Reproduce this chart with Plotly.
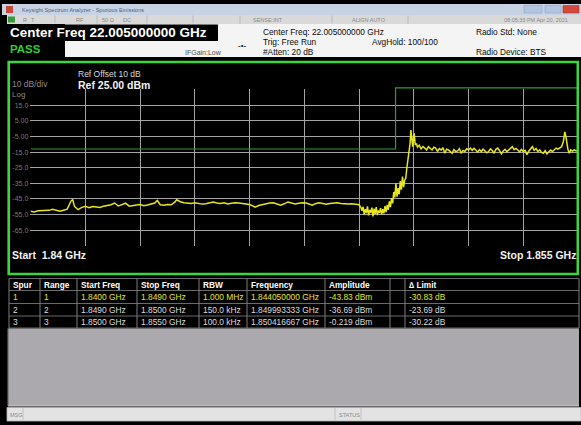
import plotly.graph_objects as go

W, H = 581, 425
SANS = "Liberation Sans, Arial, sans-serif"

# Sweep trace: (frequency in MHz, level in dBm)
sweep_low = [
    (1840.00, -52.9), (1840.10, -53.3), (1840.20, -52.6), (1840.30, -52.5), (1840.40, -52.0),
    (1840.50, -52.3), (1840.60, -51.6), (1840.70, -52.4), (1840.80, -52.9), (1840.90, -52.2),
    (1841.00, -51.5), (1841.05, -49.0), (1841.10, -46.5), (1841.15, -45.3), (1841.20, -49.8),
    (1841.30, -51.8), (1841.40, -50.4), (1841.50, -49.7), (1841.60, -50.6), (1841.70, -49.8),
    (1841.80, -50.1), (1841.90, -50.5), (1842.00, -49.6), (1842.10, -49.2), (1842.20, -48.7),
    (1842.30, -47.6), (1842.40, -49.5), (1842.50, -48.6), (1842.60, -47.7), (1842.70, -49.6),
    (1842.80, -49.1), (1842.90, -48.8), (1843.00, -48.6), (1843.10, -49.3), (1843.20, -48.9),
    (1843.30, -48.4), (1843.40, -47.6), (1843.47, -46.0), (1843.55, -48.7), (1843.65, -49.0),
    (1843.75, -48.5), (1843.85, -48.7), (1843.95, -47.0), (1844.00, -45.5), (1844.10, -46.8),
    (1844.20, -47.4), (1844.30, -47.6), (1844.40, -47.9), (1844.50, -47.4), (1844.60, -47.7),
    (1844.70, -48.3), (1844.80, -48.1), (1844.90, -47.3), (1845.00, -47.0), (1845.10, -47.6),
    (1845.20, -47.9), (1845.30, -47.5), (1845.40, -48.2), (1845.50, -47.8), (1845.60, -47.4),
    (1845.70, -47.6), (1845.80, -48.0), (1845.90, -48.3), (1846.00, -48.6), (1846.10, -49.6),
    (1846.15, -50.3), (1846.25, -49.2), (1846.35, -48.6), (1846.45, -48.0), (1846.55, -47.6),
    (1846.65, -47.5), (1846.75, -48.2), (1846.85, -49.0), (1846.95, -48.1), (1847.05, -46.9),
    (1847.15, -47.6), (1847.25, -48.2), (1847.35, -47.7), (1847.45, -47.4), (1847.55, -47.6),
    (1847.65, -48.5), (1847.72, -49.0), (1847.80, -48.0), (1847.90, -47.5), (1848.00, -47.9),
    (1848.10, -48.3), (1848.20, -47.9), (1848.30, -47.6), (1848.40, -47.5), (1848.50, -47.9),
    (1848.60, -48.1), (1848.70, -48.2), (1848.80, -48.0), (1848.90, -48.5), (1849.00, -48.7),
]
sweep_edge = [
    (1849.05, -50.5), (1849.08, -52.5), (1849.11, -50.0), (1849.14, -55.0), (1849.17, -51.5),
    (1849.20, -54.0), (1849.23, -49.8), (1849.26, -55.5), (1849.29, -52.0), (1849.32, -53.8),
    (1849.35, -50.6), (1849.38, -56.2), (1849.41, -51.2), (1849.44, -54.5), (1849.47, -50.2),
    (1849.50, -55.3), (1849.53, -52.4), (1849.56, -53.9), (1849.59, -50.8), (1849.62, -55.0),
    (1849.65, -51.6), (1849.68, -54.2), (1849.71, -49.5), (1849.74, -53.5), (1849.77, -48.8),
    (1849.80, -52.0), (1849.83, -46.5), (1849.86, -50.2), (1849.89, -44.4), (1849.92, -47.8),
    (1849.95, -40.5), (1849.98, -44.0), (1850.01, -35.0), (1850.04, -43.5), (1850.07, -38.0),
    (1850.10, -42.0), (1850.13, -33.5), (1850.16, -39.0), (1850.19, -30.6), (1850.22, -37.5),
    (1850.25, -33.0), (1850.28, -31.6), (1850.31, -25.0), (1850.34, -20.5), (1850.37, -15.5),
    (1850.40, -9.0), (1850.42, -0.9), (1850.45, -8.5), (1850.47, -11.5), (1850.49, -6.0),
    (1850.51, -3.0), (1850.54, -10.4), (1850.57, -9.5), (1850.60, -11.8),
]
sweep_high = [
    (1850.65, -10.6), (1850.70, -12.9), (1850.75, -11.4), (1850.80, -12.4), (1850.85, -13.6),
    (1850.90, -11.5), (1850.95, -12.8), (1851.00, -13.6), (1851.05, -11.9), (1851.10, -12.4),
    (1851.15, -14.6), (1851.20, -12.7), (1851.25, -13.6), (1851.30, -12.2), (1851.35, -15.7),
    (1851.40, -13.1), (1851.45, -13.6), (1851.50, -14.9), (1851.55, -15.7), (1851.60, -13.4),
    (1851.65, -14.6), (1851.70, -14.2), (1851.75, -12.8), (1851.80, -15.7), (1851.85, -13.9),
    (1851.90, -14.6), (1851.95, -12.9), (1852.00, -13.6), (1852.05, -12.4), (1852.10, -13.8),
    (1852.15, -12.6), (1852.20, -13.6), (1852.25, -15.0), (1852.30, -13.4), (1852.35, -14.6),
    (1852.40, -13.1), (1852.45, -14.2), (1852.50, -15.4), (1852.55, -14.6), (1852.60, -12.9),
    (1852.65, -14.0), (1852.70, -15.7), (1852.75, -13.2), (1852.80, -12.4), (1852.85, -14.1),
    (1852.90, -16.1), (1852.95, -14.3), (1853.00, -13.2), (1853.05, -14.7), (1853.10, -13.6),
    (1853.15, -12.5), (1853.20, -11.5), (1853.25, -13.4), (1853.30, -12.6), (1853.35, -13.6),
    (1853.40, -14.8), (1853.45, -13.3), (1853.50, -14.6), (1853.55, -13.9), (1853.60, -16.6),
    (1853.65, -14.4), (1853.70, -12.9), (1853.75, -11.5), (1853.80, -13.8), (1853.85, -12.7),
    (1853.90, -14.6), (1853.95, -13.5), (1854.00, -15.2), (1854.05, -15.7), (1854.10, -14.0),
    (1854.15, -16.1), (1854.20, -14.8), (1854.25, -13.7), (1854.30, -14.6), (1854.35, -13.2),
    (1854.40, -12.4), (1854.45, -13.1), (1854.50, -12.0), (1854.55, -11.5), (1854.60, -8.0),
    (1854.64, -2.0), (1854.68, -6.5), (1854.72, -12.8), (1854.76, -15.7), (1854.80, -13.6),
    (1854.85, -14.4), (1854.90, -13.6), (1854.95, -14.2), (1855.00, -13.6),
]

# Spurious-emission ranges and their limit lines
range_start_mhz = [1840.0, 1849.0, 1850.0]
range_stop_mhz = [1849.0, 1850.0, 1855.0]
limit_dbm = [-13.0, -13.0, 30.0]

# Display scale
ref_level_dbm = 25.0
bottom_level_dbm = -75.0
start_mhz, stop_mhz = 1840.0, 1855.0
y_tick_vals = [25, 15, 5, -5, -15, -25, -35, -45, -55, -65, -75]
y_tick_text = ["", "15.0", "5.00", "-5.00", "-15.0", "-25.0", "-35.0", "-45.0", "-55.0", "-65.0", ""]
x_grid_mhz = [1840.0, 1841.5, 1843.0, 1844.5, 1846.0, 1847.5, 1849.0, 1850.5, 1852.0, 1853.5, 1855.0]

# Result table
table_header = ["Spur", "Range", "Start Freq", "Stop Freq", "RBW", "Frequency", "Amplitude", "", "\u2206 Limit"]
table_rows = [
    ["1", "1", "1.8400 GHz", "1.8490 GHz", "1.000 MHz", "1.844050000 GHz", "-43.83 dBm", "", "-30.83 dB"],
    ["2", "2", "1.8490 GHz", "1.8500 GHz", "150.0 kHz", "1.849993333 GHz", "-36.69 dBm", "", "-23.69 dB"],
    ["3", "3", "1.8500 GHz", "1.8550 GHz", "100.0 kHz", "1.850416667 GHz", "-0.219 dBm", "", "-30.22 dB"],
]

# ---------------- geometry (pixels) ----------------
PX_L, PX_R = 30.7, 578.0      # start / stop frequency
PY_T, PY_B = 89.7, 245.8      # ref level / bottom level
ppm = (PX_R - PX_L) / (stop_mhz - start_mhz)
ppd = (PY_B - PY_T) / (ref_level_dbm - bottom_level_dbm)
pad_x, pad_y = 0.01, 0.2
x_dom = [(PX_L - pad_x * ppm) / W, (PX_R + pad_x * ppm) / W]
y_dom = [1 - (PY_B + pad_y * ppd) / H, 1 - (PY_T - pad_y * ppd) / H]
LIM_TOP_PX = 86.0
y2_top = ref_level_dbm + (PY_T - LIM_TOP_PX) / ppd
y2_dom = [y_dom[0], 1 - LIM_TOP_PX / H]

sweep = sweep_low + sweep_edge + sweep_high
sweep_f = [p[0] for p in sweep]
sweep_l = [p[1] for p in sweep]

# limits above the screen are pinned just over the top graticule line, as the analyzer does
pin = ref_level_dbm + 1.2
lim_x, lim_y = [], []
for s, e, v in zip(range_start_mhz, range_stop_mhz, limit_dbm):
    v = min(v, pin)
    lim_x += [s, e]
    lim_y += [v, v]

shapes = []
annotations = []


def rect(x0, y0, x1, y1, fill, line_color=None, lw=0, layer="below"):
    shapes.append(dict(type="rect", xref="paper", yref="paper",
                       x0=x0 / W, x1=x1 / W, y0=1 - y1 / H, y1=1 - y0 / H,
                       fillcolor=fill, line=dict(color=line_color or fill, width=lw), layer=layer))


def hline(x0, x1, y, color, lw=1, layer="below"):
    shapes.append(dict(type="line", xref="paper", yref="paper",
                       x0=x0 / W, x1=x1 / W, y0=1 - y / H, y1=1 - y / H,
                       line=dict(color=color, width=lw), layer=layer))


def vline(x, y0, y1, color, lw=1, layer="below"):
    shapes.append(dict(type="line", xref="paper", yref="paper",
                       x0=x / W, x1=x / W, y0=1 - y0 / H, y1=1 - y1 / H,
                       line=dict(color=color, width=lw), layer=layer))


def label(x, y, s, size, color, bold=False, anchor="left"):
    annotations.append(dict(xref="paper", yref="paper", x=x / W, y=1 - y / H,
                            text=f"<b>{s}</b>" if bold else s, showarrow=False,
                            xanchor=anchor, yanchor="middle", borderpad=0,
                            font=dict(family=SANS, size=size, color=color)))


# ---- window title bar ----
rect(2, 4, 581, 15, "#c7d3e5")
rect(6, 6, 13, 13, "#c8473c")
label(21, 9.6, "Keysight Spectrum Analyzer - Spurious Emissions", 5.5, "#4d5f82")
rect(524, 5.5, 542, 13, "#b4c6df", "#8fa4c2", 0.6)
rect(545, 5.5, 561, 13, "#b4c6df", "#8fa4c2", 0.6)
rect(563, 5.5, 579, 13, "#d34a3b", "#a8382c", 0.6)

# ---- status row ----
rect(7, 15, 581, 24, "#d9d9d9")
rect(8, 16.5, 15, 22.5, "#3a9a3a")
label(22, 19.5, "R", 5.5, "#8a8a8a")
label(30, 19.5, "T", 5.5, "#8a8a8a")
label(75, 19.5, "RF", 5.5, "#8a8a8a")
label(101, 19.5, "50 \u03a9", 5.5, "#8a8a8a")
label(122, 19.5, "DC", 5.5, "#8a8a8a")
label(252, 19.5, "SENSE:INT", 5.5, "#8a8a8a")
label(351, 19.5, "ALIGN AUTO", 5.5, "#8a8a8a")
label(569, 19.5, "08:05:33 PM Apr 20, 2021", 5.5, "#8a8a8a", anchor="right")
for sx in [55, 97, 147, 193, 240, 332, 408]:
    vline(sx, 15.5, 23.5, "#b2b2b2", 0.8)

# ---- header area ----
rect(65, 24, 581, 57, "#f4f4f4")
rect(7, 24.5, 218, 41, "#000000")
rect(7, 41.5, 65, 57, "#000000")
label(9, 33, "Center Freq 22.005000000 GHz", 13.5, "#ffffff", bold=True)
label(9, 49.5, "PASS", 11.5, "#33cc33", bold=True)
label(184, 52.5, "IFGain:Low", 7, "#505050")
label(237, 45.5, "-\u2022-", 8, "#333333", bold=True)
label(262, 32.5, "Center Freq: 22.005000000 GHz", 8.3, "#0a0a0a")
label(262, 42, "Trig: Free Run", 8.3, "#0a0a0a")
label(262, 51.5, "#Atten: 20 dB", 8.3, "#0a0a0a")
label(371, 42, "AvgHold: 100/100", 8.3, "#0a0a0a")
label(475, 32.5, "Radio Std: None", 8.3, "#0a0a0a")
label(475, 52, "Radio Device: BTS", 8.3, "#0a0a0a")

# ---- graph frame and annotations ----
rect(8.7, 62, 577.8, 274, "rgba(0,0,0,0)", "#3ad63a", 2.6, layer="above")
label(77, 74, "Ref Offset 10 dB", 8.5, "#d9d9d9")
label(77, 85, "Ref 25.00 dBm", 10.5, "#f2f2f2", bold=True)
label(10.5, 84, "10 dB/div", 8.5, "#8c8c8c")
label(10.5, 94.2, "Log", 8, "#8c8c8c")
label(10.5, 255, "Start&nbsp; 1.84 GHz", 10.5, "#f2f2f2", bold=True)
label(577, 255, "Stop 1.855 GHz", 10.5, "#f2f2f2", bold=True, anchor="right")

# ---- result table ----
col_edges = [9, 40, 77, 137, 199, 247, 325, 390, 405, 579]
row_edges = [278.5, 290.5, 303.5, 316, 328]
rect(9, 278.5, 579, 328, "#000000")
for ry in row_edges:
    hline(9, 579, ry, "#6a6a6a", 1)
for cx in col_edges:
    vline(cx, 278.5, 328, "#7c7c7c", 1)
for i, h in enumerate(table_header):
    if h:
        label(col_edges[i] + 3, (row_edges[0] + row_edges[1]) / 2, h, 8.3, "#ffffff", bold=True)
row_colors = ["#e6e620", "#dedede", "#dedede"]
for r, row in enumerate(table_rows):
    yc = (row_edges[r + 1] + row_edges[r + 2]) / 2
    for i, cell in enumerate(row):
        if cell:
            label(col_edges[i] + 3, yc, cell, 8.4, row_colors[r])

# ---- lower gray panel and message bar ----
rect(8, 328.5, 579, 406, "#aca9ae")
vline(8, 328.5, 406, "#6e6c70", 1.2)
hline(8, 579, 406, "#d0ced2", 1)
rect(7, 407.5, 581, 421, "#e3e3e3", "#b9b9b9", 0.8)
label(8.5, 414.5, "MSG", 5.5, "#8a8a8a")
vline(23, 408, 420.5, "#bdbdbd", 0.8)
label(338, 414.5, "STATUS", 5.5, "#8a8a8a")
vline(335, 408, 420.5, "#bdbdbd", 0.8)
vline(361, 408, 420.5, "#bdbdbd", 0.8)

GRID = "#a4a4a4"
fig = go.Figure()
fig.add_trace(go.Scatter(x=sweep_f, y=sweep_l, mode="lines", xaxis="x", yaxis="y",
                         line=dict(color="#e8e61e", width=1.5), hoverinfo="skip", showlegend=False))
fig.add_trace(go.Scatter(x=lim_x, y=lim_y, mode="lines", xaxis="x2", yaxis="y2",
                         line=dict(color="#2c9e3a", width=1.2), hoverinfo="skip", showlegend=False))

fig.update_layout(
    width=W, height=H, margin=dict(l=0, r=0, t=0, b=0),
    paper_bgcolor="#000000", plot_bgcolor="rgba(0,0,0,0)",
    showlegend=False,
    xaxis=dict(domain=x_dom, range=[start_mhz - pad_x, stop_mhz + pad_x], tickvals=x_grid_mhz,
               showticklabels=False, showgrid=True, gridcolor=GRID, gridwidth=1,
               zeroline=False, showline=False, ticks="", fixedrange=True, anchor="y"),
    yaxis=dict(domain=y_dom, range=[bottom_level_dbm - pad_y, ref_level_dbm + pad_y],
               tickvals=y_tick_vals, ticktext=y_tick_text, ticks="", ticklabelstandoff=1,
               tickfont=dict(family=SANS, size=7, color="#7a7a7a"),
               showgrid=True, gridcolor=GRID, gridwidth=1, zeroline=False, showline=False,
               fixedrange=True, anchor="x"),
    xaxis2=dict(domain=x_dom, range=[start_mhz - pad_x, stop_mhz + pad_x], visible=False,
                anchor="y2", fixedrange=True),
    yaxis2=dict(domain=y2_dom, range=[bottom_level_dbm - pad_y, y2_top], visible=False,
                anchor="x2", fixedrange=True),
    shapes=shapes, annotations=annotations,
)

fig.write_html(
    "out.html",
    config={"displayModeBar": False},
    post_script="document.body.style.margin='0';document.body.style.overflow='hidden';",
)
